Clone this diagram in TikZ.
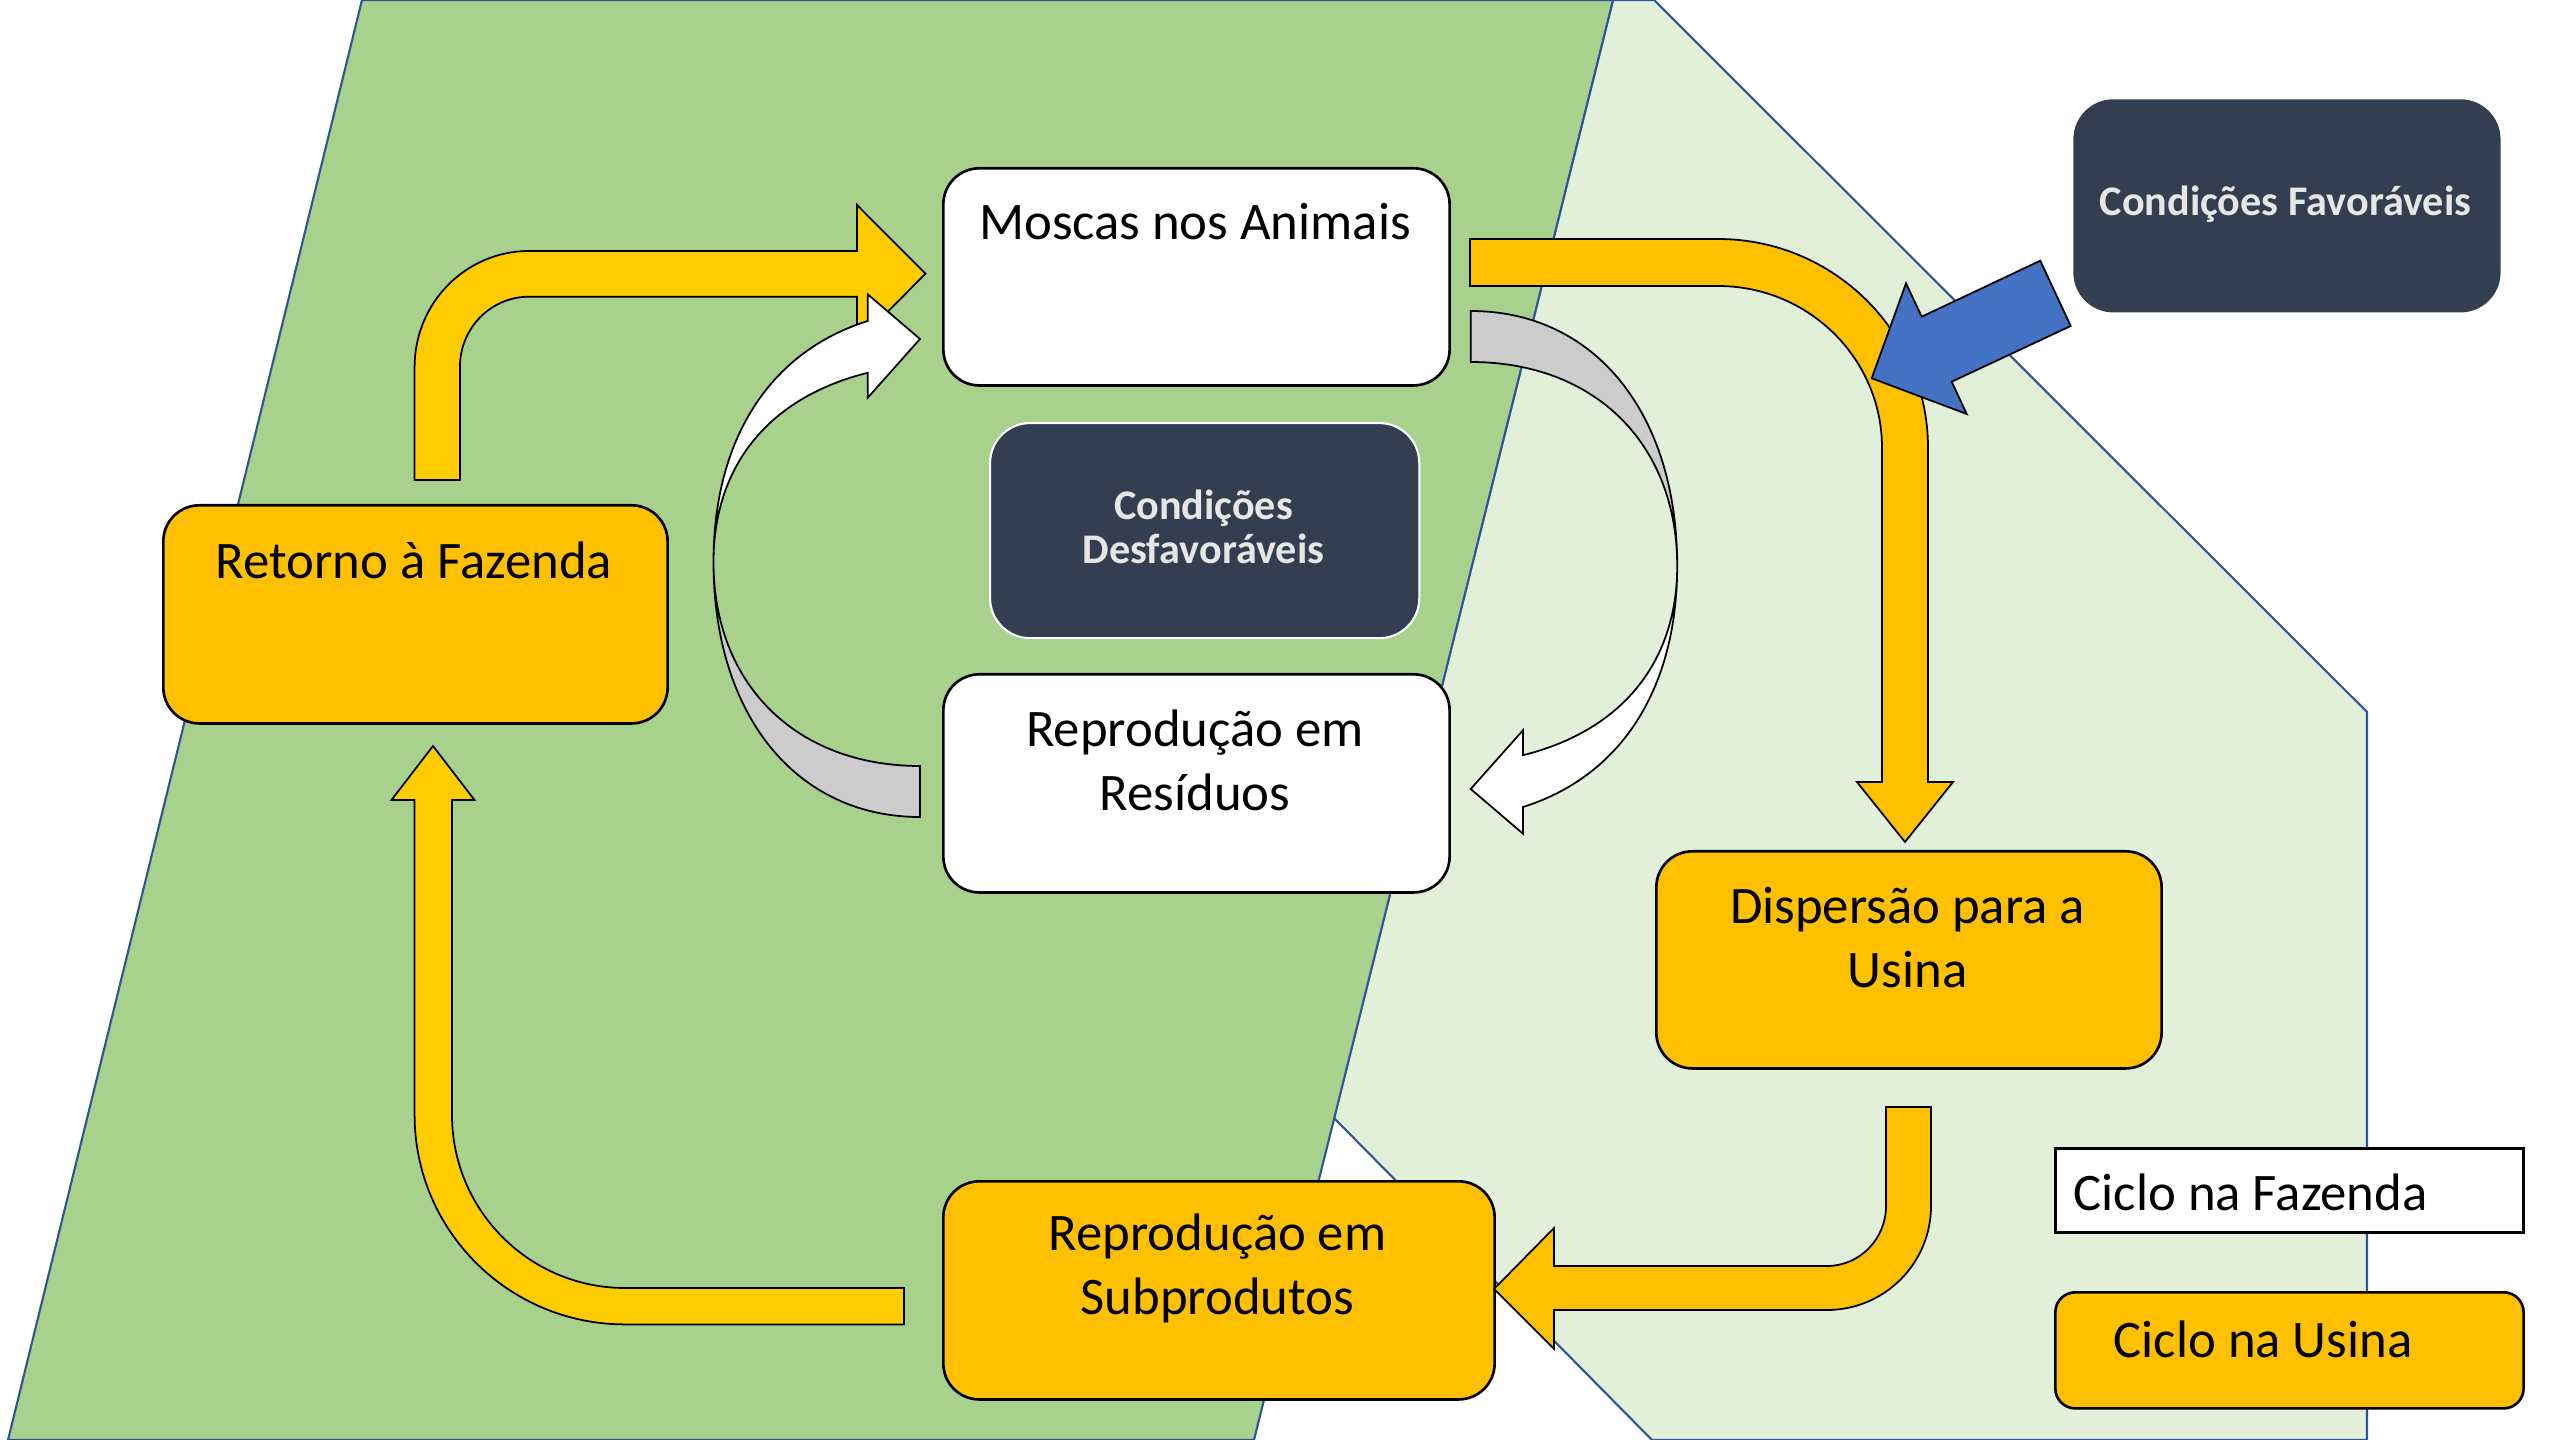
\documentclass[tikz,border=0pt]{standalone}
\usepackage{fontspec}
\setmainfont{Carlito}
\definecolor{farm}{HTML}{A9D18E}
\definecolor{usina}{HTML}{E2F0D9}
\definecolor{edgeblue}{HTML}{2F5597}
\definecolor{orangebox}{HTML}{FFC000}
\definecolor{yellowarr}{HTML}{FFCC00}
\definecolor{darkbox}{HTML}{333F50}
\definecolor{darktext}{HTML}{E7E6E6}
\definecolor{grayarr}{HTML}{CCCCCC}
\definecolor{bluearr}{HTML}{4472C4}
\newcommand{\flycyclearrow}{%
  \filldraw[fill=grayarr, shapeline] (713.5,562) .. controls (713.5,715) and (796,817) .. (920,817)
    -- (920,766) .. controls (796,766) and (713.5,684.4) .. (713.5,562) -- cycle;
  \filldraw[fill=white, shapeline] (713.5,562) .. controls (713.5,440) and (769,352) .. (867.7,321)
    -- (867.7,294.3) -- (920,339) -- (867.7,397.8) -- (867.7,372.8)
    .. controls (769.1,397.3) and (713.5,465.5) .. (713.5,562) -- cycle;
}
\begin{document}
\begin{tikzpicture}[x=0.01cm, y=-0.01cm,
  region/.style={draw=edgeblue, line width=0.6pt, line join=miter},
  shapeline/.style={draw=black, line width=0.5pt, line join=miter},
  boxbase/.style={anchor=north west, inner sep=0pt, line width=0.75pt},
  whitebox/.style={boxbase, draw=black, fill=white, rounded corners=0.36cm},
  orangebox/.style={boxbase, draw=black, fill=orangebox, rounded corners=0.36cm},
  darkbox/.style={boxbase, fill=darkbox, rounded corners=0.4cm},
  txt/.style={font=\fontsize{15}{18.2}\selectfont, align=center, inner sep=0pt, text=black},
  darktxt/.style={font=\fontsize{12}{12.6}\selectfont\bfseries, align=center, inner sep=0pt, text=darktext}
]
\useasboundingbox (0,0) rectangle (2560,1440);

% background regions
\filldraw[fill=usina, region] (1613,0) -- (1654,0) -- (2367,712) -- (2367,1440) -- (1652,1440) -- (1334,1118) -- cycle;
\filldraw[fill=farm, region] (362,0) -- (1613,0) -- (1254,1440) -- (8,1440) -- cycle;

% boxes
\node[whitebox, minimum width=5.06cm, minimum height=2.17cm] (moscas) at (942,167) {};
\node[whitebox, minimum width=5.06cm, minimum height=2.18cm] (residuos) at (942,673) {};
\node[darkbox, draw=white, line width=0.6pt, minimum width=4.29cm, minimum height=2.15cm] (desfav) at (989,422) {};
\node[darkbox, minimum width=4.27cm, minimum height=2.13cm] (fav) at (2072,98) {};
\node[orangebox, minimum width=5.04cm, minimum height=2.18cm] (retorno) at (162,504) {};
\node[orangebox, minimum width=5.05cm, minimum height=2.17cm] (dispersao) at (1655,850) {};
\node[orangebox, minimum width=5.51cm, minimum height=2.18cm] (subprod) at (942,1180) {};
\node[boxbase, draw=black, fill=white, minimum width=4.68cm, minimum height=0.84cm] (legfaz) at (2054,1147) {};
\node[orangebox, rounded corners=0.2cm, minimum width=4.68cm, minimum height=1.16cm] (legusi) at (2054,1291) {};

% texts
\node[txt] (moscas-t) at (1195,222) {Moscas nos Animais};
\node[txt] (residuos-t) at (1195,760) {Reprodução em\\Resíduos};
\node[darktxt] (desfav-t) at (1203.5,527) {Condições\\Desfavoráveis};
\node[darktxt] (fav-t) at (2285.5,204) {Condições Favoráveis};
\node[txt] (retorno-t) at (414,560) {Retorno à Fazenda};
\node[txt] (dispersao-t) at (1907.5,938) {Dispersão para a\\Usina};
\node[txt] (subprod-t) at (1217.5,1268) {Reprodução em\\Subprodutos};
\node[txt, anchor=west] (legfaz-t) at (2073,1192) {Ciclo na Fazenda};
\node[txt, anchor=west] (legusi-t) at (2113,1339) {Ciclo na Usina};

% yellow arrow: Retorno -> Moscas
\filldraw[fill=yellowarr, shapeline] (414.6,480) -- (414.6,367)
  .. controls (414.6,302.9) and (465.8,251) .. (529,251)
  -- (857,251) -- (857,205) -- (925.5,273.7) -- (857,342.4) -- (857,296.7) -- (529,296.7)
  .. controls (490.8,296.7) and (459.9,328.2) .. (459.9,367)
  -- (459.9,480) -- cycle;

% yellow arrow: Subprodutos -> Retorno
\filldraw[fill=yellowarr, shapeline] (904,1288) -- (625,1288)
  .. controls (529.5,1288) and (452,1210.5) .. (452,1115)
  -- (452,800) -- (474.5,800) -- (433,746) -- (391.5,800) -- (414.6,800) -- (414.6,1115)
  .. controls (414.6,1230.6) and (508.8,1324.4) .. (625,1324.4)
  -- (904,1324.4) -- cycle;

% orange arrow: Moscas -> Dispersao
\filldraw[fill=orangebox, shapeline] (1470,239) -- (1718,239)
  .. controls (1834,239) and (1928,332.6) .. (1928,448)
  -- (1928,782) -- (1953,782) -- (1905,842) -- (1857,782) -- (1882,782) -- (1882,448)
  .. controls (1882,358.5) and (1808.6,286) .. (1718,286)
  -- (1470,286) -- cycle;

% orange arrow: Dispersao -> Subprodutos
\filldraw[fill=orangebox, shapeline] (1886,1107) -- (1886,1206)
  .. controls (1886,1239) and (1859.6,1266) .. (1827,1266)
  -- (1554,1266) -- (1554,1228) -- (1494,1289) -- (1554,1349) -- (1554,1310) -- (1827,1310)
  .. controls (1884.4,1310) and (1931,1263.4) .. (1931,1206)
  -- (1931,1107) -- cycle;

% circular arrows
\flycyclearrow
\begin{scope}[rotate around={180:(1195.35,564)}]
  \flycyclearrow
\end{scope}

% blue arrow from Condicoes Favoraveis
\filldraw[fill=bluearr, shapeline] (2040.3,260.7) -- (1921.7,316.7) -- (1906,283.3) -- (1871.7,378.3)
  -- (1966.7,414) -- (1951.7,381.7) -- (2070.7,326) -- cycle;
\end{tikzpicture}
\end{document}
